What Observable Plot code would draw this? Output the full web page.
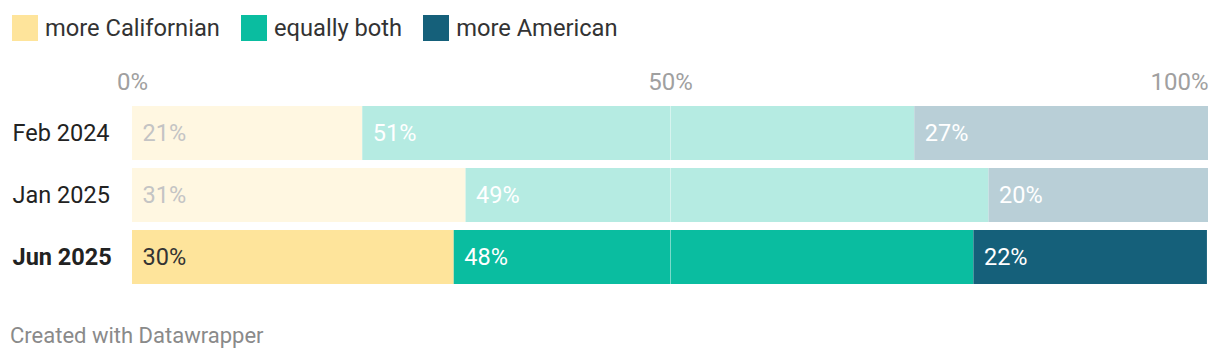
<!DOCTYPE html>
<html>
<head>
<meta charset="utf-8">
<script src="https://cdn.jsdelivr.net/npm/d3@7"></script>
<script src="https://cdn.jsdelivr.net/npm/@observablehq/plot@0.6"></script>
<style>
  html, body { margin: 0; padding: 0; background: #fff; }
  body { font-family: Roboto, "Noto Sans", sans-serif; width: 1220px; height: 360px; overflow: hidden; }
  #legend { height: 56px; display: flex; align-items: center; padding-left: 12px; box-sizing: border-box; }
  .item { display: flex; align-items: center; margin-right: 21px; font-size: 23.7px; color: #333; }
  .sw { width: 26px; height: 26px; margin-right: 7px; }
  #footer { font-size: 22px; line-height: 26px; color: #8a8a8a; padding-left: 10px; padding-top: 17px; }
  svg text { font-family: Roboto, "Noto Sans", sans-serif; }
</style>
</head>
<body>
<div id="legend"></div>
<div id="chart"></div>
<div id="footer">Created with Datawrapper</div>
<script>
const rows = ["Feb 2024", "Jan 2025", "Jun 2025"];
const categories = ["more Californian", "equally both", "more American"];
const moreCalifornian = [21.4, 31.0, 29.9];
const equallyBoth = [51.3, 48.6, 48.3];
const moreAmerican = [27.3, 20.4, 21.7];
const xTicks = [0, 50, 100];
const highlightRow = "Jun 2025";

const strong = {"more Californian": "#fee49b", "equally both": "#0abda0", "more American": "#15607a"};
const faded = {"more Californian": "#fff7e1", "equally both": "#b5ebe2", "more American": "#b9cfd7"};
const labelStrong = {"more Californian": "#333333", "equally both": "#ffffff", "more American": "#ffffff"};
const labelFaded = {"more Californian": "#c4c4c4", "equally both": "#ffffff", "more American": "#ffffff"};

const series = [moreCalifornian, equallyBoth, moreAmerican];
const data = [];
rows.forEach((r, i) => categories.forEach((c, j) => data.push({row: r, cat: c, value: series[j][i]})));

// legend
const legend = document.getElementById("legend");
categories.forEach(c => {
  const it = document.createElement("div"); it.className = "item";
  const sw = document.createElement("div"); sw.className = "sw"; sw.style.background = strong[c];
  const t = document.createElement("span"); t.textContent = c;
  it.appendChild(sw); it.appendChild(t); legend.appendChild(it);
});

const fillOf = d => (d.row === highlightRow ? strong : faded)[d.cat];
const textFillOf = d => (d.row === highlightRow ? labelStrong : labelFaded)[d.cat];

const chart = Plot.plot({
  width: 1220,
  height: 250,
  marginLeft: 132,
  marginRight: 12,
  marginTop: 50,
  marginBottom: 22,
  x: {domain: [0, 100], axis: null},
  y: {domain: rows, axis: null, paddingInner: 0.13, paddingOuter: 0},
  color: {type: "identity"},
  marks: [
    Plot.barX(data, Plot.stackX({x: "value", y: "row", z: "cat", order: categories, fill: fillOf})),
    Plot.ruleX([50], {stroke: "#ffffff", strokeOpacity: 0.45, strokeWidth: 1}),
    Plot.text(data, Plot.stackX1({x: "value", y: "row", z: "cat", order: categories,
      text: d => Math.round(d.value) + "%", fill: textFillOf, textAnchor: "start", dx: 10, fontSize: 23.5})),
    Plot.text(rows.filter(r => r !== highlightRow), {y: d => d, text: d => d, frameAnchor: "left", dx: -120, textAnchor: "start", fontSize: 23.5, fill: "#222"}),
    Plot.text(rows.filter(r => r === highlightRow), {y: d => d, text: d => d, frameAnchor: "left", dx: -120, textAnchor: "start", fontSize: 23.5, fontWeight: "bold", fill: "#222"}),
    Plot.text(xTicks.filter(t => t < 100), {x: d => d, text: d => d + "%", frameAnchor: "top", lineAnchor: "middle", dy: -24, textAnchor: "middle", fontSize: 24, fill: "#a0a0a0"}),
    Plot.text(xTicks.filter(t => t === 100), {x: d => d, text: d => d + "%", frameAnchor: "top", lineAnchor: "middle", dy: -24, textAnchor: "end", fontSize: 24, fill: "#a0a0a0"})
  ]
});
document.getElementById("chart").appendChild(chart);
</script>
</body>
</html>
